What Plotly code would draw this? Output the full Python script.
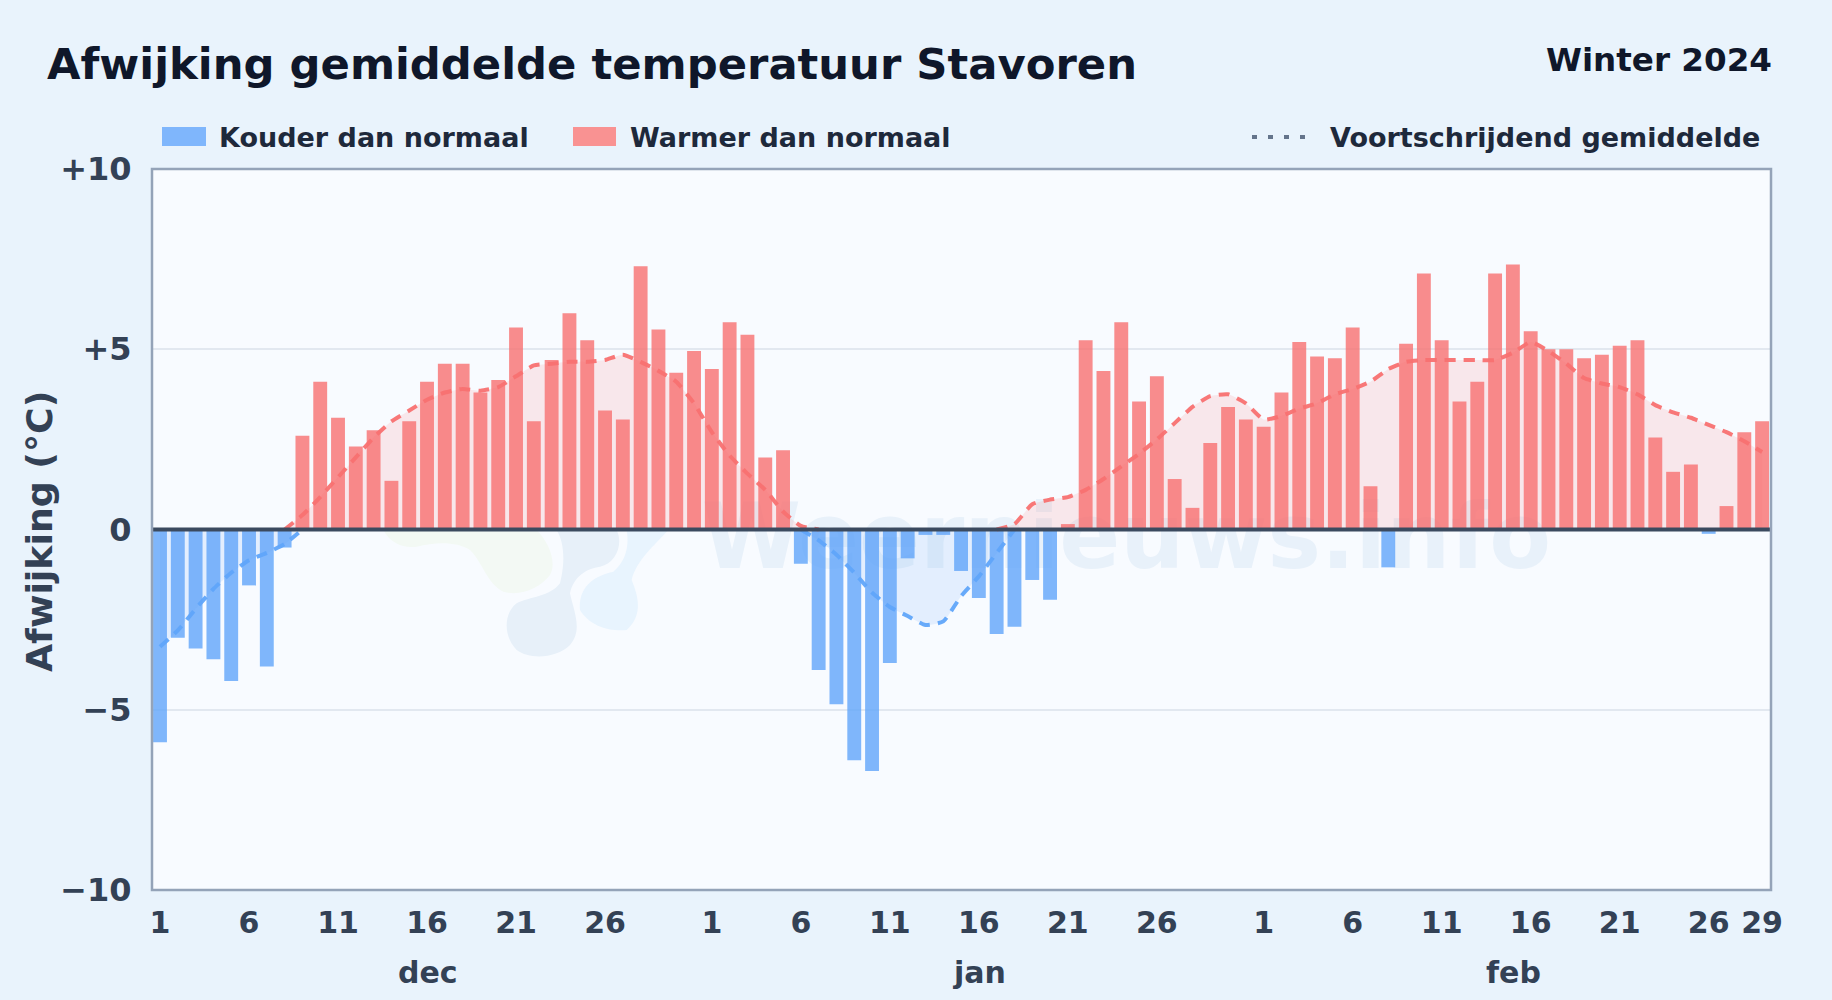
import plotly.graph_objects as go

W, H = 1832, 1000
L, R, T, B = 152, 1771, 169, 890
FONT = "DejaVu Sans"

months = ["dec", "jan", "feb"]
month_lengths = [31, 31, 29]
tick_days = [[1, 6, 11, 16, 21, 26], [1, 6, 11, 16, 21, 26], [1, 6, 11, 16, 21, 26, 29]]
y_ticks = [10, 5, 0, -5, -10]
y_labels = ["+10", "+5", "0", "\u22125", "\u221210"]

dec_values = [-5.9, -3.0, -3.3, -3.6, -4.2, -1.55, -3.8, -0.5, 2.6, 4.1, 3.1, 2.3, 2.75, 1.35, 3.0, 4.1,
              4.6, 4.6, 3.8, 4.15, 5.6, 3.0, 4.7, 6.0, 5.25, 3.3, 3.05, 7.3, 5.55, 4.35, 4.95]
jan_values = [4.45, 5.75, 5.4, 2.0, 2.2, -0.95, -3.9, -4.85, -6.4, -6.7, -3.7, -0.8, -0.15, -0.15, -1.15, -1.9,
              -2.9, -2.7, -1.4, -1.95, 0.15, 5.25, 4.4, 5.75, 3.55, 4.25, 1.4, 0.6, 2.4, 3.4, 3.05]
feb_values = [2.85, 3.8, 5.2, 4.8, 4.75, 5.6, 1.2, -1.05, 5.15, 7.1, 5.25, 3.55, 4.1, 7.1, 7.35, 5.5,
              5.0, 5.0, 4.75, 4.85, 5.1, 5.25, 2.55, 1.6, 1.8, -0.12, 0.65, 2.7, 3.0]

dec_avg = [-3.25, -2.8, -2.2, -1.65, -1.2, -0.85, -0.65, -0.4, 0.4, 0.9, 1.45, 2.0, 2.55, 3.0, 3.3, 3.6,
           3.8, 3.9, 3.85, 3.95, 4.25, 4.55, 4.6, 4.65, 4.65, 4.7, 4.85, 4.65, 4.4, 4.1, 3.5]
jan_avg = [2.7, 2.05, 1.55, 1.1, 0.5, 0.1, -0.3, -0.7, -1.2, -1.75, -2.15, -2.4, -2.65, -2.55, -1.85, -1.3,
           -0.65, 0.15, 0.7, 0.83, 0.9, 1.1, 1.4, 1.75, 2.1, 2.5, 2.95, 3.4, 3.7, 3.75, 3.5]
feb_avg = [3.05, 3.15, 3.35, 3.5, 3.75, 3.9, 4.1, 4.45, 4.65, 4.7, 4.7, 4.7, 4.7, 4.7, 4.9, 5.2,
           4.95, 4.6, 4.2, 4.05, 3.95, 3.75, 3.45, 3.25, 3.1, 2.9, 2.7, 2.45, 2.15]

values = dec_values + jan_values + feb_values
avg = dec_avg + jan_avg + feb_avg
x = list(range(len(values)))

COLD, WARM = "rgba(96,165,250,0.8)", "rgba(248,113,113,0.8)"


def px(X, Y):
    return (X - L) / (R - L), (B - Y) / (B - T)


def side(sign):
    """Keep one sign of the moving average; the other sign rests on the zero line."""
    kept = [v if v * sign > 0 else 0 for v in avg]
    out = []
    for i, v in enumerate(kept):
        near = kept[max(i - 1, 0):i + 2]
        out.append(v if any(n != 0 for n in near) else None)
    return out


fig = go.Figure()
fig.add_bar(x=x, y=values, width=0.78, marker=dict(color=[COLD if v < 0 else WARM for v in values], line_width=0))
for sign, line, fill in ((1, "rgba(248,113,113,0.95)", "rgba(248,113,113,0.14)"), (-1, "rgba(96,165,250,0.95)", "rgba(96,165,250,0.14)")):
    fig.add_scatter(x=x, y=side(sign), mode="lines", fill="tozeroy", fillcolor=fill,
                    line=dict(color=line, width=4, dash="11px,8px", shape="spline", smoothing=0.5))


def blob(points, color):
    # decorative logo behind the chart; points are in zoom pixels of the reference crop
    conv = [px(360 + a / 3, 500 + b / 3) for a, b in points]
    d = f"M {conv[0][0]},{conv[0][1]}"
    for i in range(1, len(conv) - 2, 3):
        d += " C " + " ".join(f"{p[0]},{p[1]}" for p in conv[i:i + 3])
    return dict(type="path", xref="paper", yref="paper", path=d + " Z", fillcolor=color, line_width=0, layer="below")


x0w, y1w = px(706, 470)
x1w, y0w = px(1547, 590)
shapes = [
    blob([(70, 90), (90, 130), (130, 145), (170, 140), (230, 125), (290, 125), (330, 150), (370, 190), (380, 250),
          (430, 275), (480, 290), (540, 265), (570, 225), (590, 190), (570, 130), (530, 90)], "#f3f9f4"),
    blob([(590, 90), (620, 140), (610, 210), (600, 250), (570, 290), (510, 290), (470, 310), (430, 340), (430, 410),
          (470, 450), (510, 480), (590, 475), (630, 435), (670, 390), (640, 330), (630, 280), (640, 230), (680, 205),
          (720, 200), (770, 190), (790, 130), (770, 90)], "#e7f0f9"),
    blob([(800, 90), (810, 150), (790, 190), (760, 215), (690, 230), (655, 270), (660, 330), (690, 380), (750, 395),
          (800, 390), (845, 350), (840, 300), (815, 240), (830, 180), (880, 140), (925, 90)], "#e8f4fe"),
    dict(type="rect", xref="paper", yref="paper", x0=x0w, x1=x1w, y0=y0w, y1=y1w, line_width=0,
         fillcolor="rgba(0,0,0,0)", layer="below",
         label=dict(text="Weernieuws.info", textposition="middle center",
                    font=dict(family=FONT, size=90, color="#e8f1fa", weight="bold"))),
    dict(type="line", xref="paper", yref="y", x0=0, x1=1, y0=0, y1=0, line=dict(color="#3b4a5f", width=4), layer="above"),
    dict(type="rect", xref="paper", yref="paper", x0=0, x1=1, y0=0, y1=1, line=dict(color="#94a3b8", width=2.5), layer="above"),
]
for X0, X1, c in ((162, 206, "#7fb6fc"), (573, 616, "#f99292")):
    a, b = px(X0, 146)
    c2, d2 = px(X1, 127)
    shapes.append(dict(type="rect", xref="paper", yref="paper", x0=a, x1=c2, y0=b, y1=d2, fillcolor=c, line_width=0))
a, b = px(1252, 137)
c2, _ = px(1310, 137)
shapes.append(dict(type="line", xref="paper", yref="paper", x0=a, x1=c2, y0=b, y1=b,
                   line=dict(color="#64748b", width=4, dash="5px,11px")))


def text(X, Y, s, size, color, xanchor="left", angle=0, weight="bold"):
    a, b = px(X, Y)
    return dict(xref="paper", yref="paper", x=a, y=b, text=s, showarrow=False, xanchor=xanchor, yanchor="middle",
                textangle=angle, font=dict(family=FONT, size=size, color=color, weight=weight))


annotations = [
    text(45, 64, "Afwijking gemiddelde temperatuur Stavoren", 43.3, "#0f172a"),
    text(1774, 60, "Winter 2024", 32.6, "#0f172a", xanchor="right"),
    text(217, 137, "Kouder dan normaal", 27, "#1e293b"),
    text(628, 137, "Warmer dan normaal", 27, "#1e293b"),
    text(1328, 137, "Voortschrijdend gemiddelde", 27, "#1e293b"),
    text(39, 531, "Afwijking (\u00b0C)", 36.3, "#334155", xanchor="center", angle=-90),
]

tickvals, ticktext = [], []
start = 0
for month, n, days in zip(months, month_lengths, tick_days):
    tickvals += [start + d - 1 for d in days]
    ticktext += [str(d) for d in days]
    mx = L + (start + n / 2) * (R - L) / len(values)
    annotations.append(text(mx, 972, month, 30, "#334155", xanchor="center"))
    start += n

fig.update_layout(
    width=W, height=H, autosize=False, showlegend=False,
    margin=dict(l=L, r=W - R, t=T, b=H - B),
    paper_bgcolor="#e9f3fc", plot_bgcolor="#f8fbff",
    font=dict(family=FONT), bargap=0.2,
    shapes=shapes, annotations=annotations,
    xaxis=dict(range=[-0.45, len(values) - 0.5], tickvals=tickvals, ticktext=ticktext, showgrid=False, zeroline=False,
               ticks="outside", ticklen=6, tickcolor="rgba(0,0,0,0)", tickangle=0,
               tickfont=dict(family=FONT, size=30, color="#334155", weight="bold")),
    yaxis=dict(range=[-10, 10], tickvals=y_ticks, ticktext=y_labels, gridcolor="#e2e8f0", gridwidth=1.5, zeroline=False,
               ticks="outside", ticklen=13, tickcolor="rgba(0,0,0,0)",
               tickfont=dict(family=FONT, size=32, color="#334155", weight="bold")),
)
fig.write_html("out.html", config=dict(displayModeBar=False),
               post_script="document.body.style.margin='0';document.body.style.overflow='hidden';")
